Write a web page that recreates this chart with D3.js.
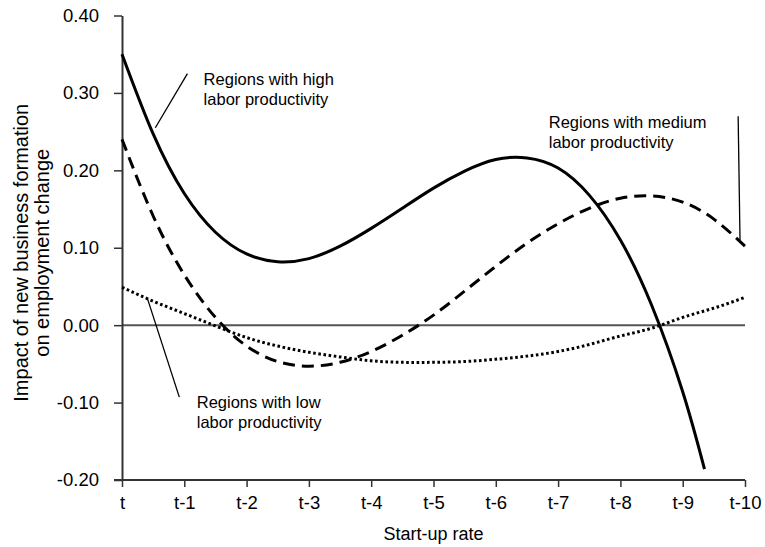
<!DOCTYPE html>
<html>
<head>
<meta charset="utf-8">
<script src="https://cdn.jsdelivr.net/npm/d3@7"></script>
<style>
  body { margin: 0; background: #fff; }
  text { font-family: Arial, "Liberation Sans", sans-serif; fill: #000; }
</style>
</head>
<body>
<svg id="chart" width="765" height="547"></svg>
<script>
// lag positions (0 = t, 10 = t-10), every half step
const lags = [0, 0.5, 1, 1.5, 2, 2.5, 3, 3.5, 4, 4.5, 5, 5.5, 6, 6.5, 7, 7.5, 8, 8.5, 9, 9.5, 10];
const tickLabels = ["t", "t-1", "t-2", "t-3", "t-4", "t-5", "t-6", "t-7", "t-8", "t-9", "t-10"];

// high productivity stops at about t-9.35
const highLags = [0, 0.5, 1, 1.5, 2, 2.5, 3, 3.5, 4, 4.5, 5, 5.5, 6, 6.5, 7, 7.5, 8, 8.5, 9, 9.35];
const highValues = [0.350, 0.247, 0.170, 0.120, 0.092, 0.082, 0.086, 0.102, 0.125, 0.151, 0.177, 0.199, 0.214, 0.216, 0.203, 0.168, 0.110, 0.026, -0.086, -0.186];
const mediumValues = [0.240, 0.141, 0.065, 0.010, -0.027, -0.047, -0.053, -0.048, -0.034, -0.013, 0.013, 0.044, 0.076, 0.106, 0.131, 0.151, 0.164, 0.167, 0.159, 0.137, 0.102];
const lowValues = [0.049, 0.031, 0.015, -0.001, -0.016, -0.027, -0.035, -0.041, -0.046, -0.048, -0.048, -0.047, -0.044, -0.040, -0.034, -0.025, -0.014, -0.004, 0.010, 0.022, 0.036];

const yTicks = [-0.2, -0.1, 0, 0.1, 0.2, 0.3, 0.4];

// annotations in data units: leader [from, to] and text anchor
const notes = [
  { lines: ["Regions with high", "labor productivity"], at: [1.31, 0.310], leader: [[0.535, 0.255], [1.05, 0.325]] },
  { lines: ["Regions with medium", "labor productivity"], at: [6.85, 0.255], leader: [[9.89, 0.270], [9.92, 0.110]] },
  { lines: ["Regions with low", "labor productivity"], at: [1.20, -0.107], leader: [[0.41, 0.034], [0.92, -0.093]] }
];

const width = 765, height = 547;
const margin = { top: 15.5, right: 20, bottom: 67, left: 122 };

const svg = d3.select("#chart");
const x = d3.scaleLinear().domain([0, 10]).range([margin.left, width - margin.right]);
const y = d3.scaleLinear().domain([-0.2, 0.4]).range([height - margin.bottom, margin.top]);

// plain hyphen for negatives, like the original
const fmt = (d) => d3.format(".2f")(d).replace("\u2212", "-");

// zero line
svg.append("line")
  .attr("x1", x(0)).attr("x2", x(10))
  .attr("y1", y(0)).attr("y2", y(0))
  .attr("stroke", "#555").attr("stroke-width", 2);

// y axis
const yAxis = svg.append("g")
  .attr("transform", `translate(${x(0)},0)`)
  .call(d3.axisLeft(y).tickValues(yTicks).tickFormat(fmt).tickSize(8).tickSizeOuter(0).tickPadding(15));

// x axis
const xAxis = svg.append("g")
  .attr("transform", `translate(0,${y(-0.2)})`)
  .call(d3.axisBottom(x).tickValues(d3.range(0, 11)).tickFormat((d) => tickLabels[d]).tickSize(7).tickSizeOuter(0).tickPadding(9));

[yAxis, xAxis].forEach((g) => {
  g.select(".domain").attr("stroke", "#333").attr("stroke-width", 2);
  g.selectAll(".tick line").attr("stroke", "#333").attr("stroke-width", 1.5);
  g.selectAll(".tick text").attr("font-size", 18.5).attr("fill", "#000")
    .attr("font-family", "Arial, 'Liberation Sans', sans-serif");
});
// x axis line also runs under the -0.20 tick
xAxis.select(".domain").attr("d", `M${x(0) - 8},0H${x(10)}`);

// curves
const line = d3.line()
  .x((d) => x(d[0]))
  .y((d) => y(d[1]))
  .curve(d3.curveNatural);

const series = [
  { pts: lags.map((l, i) => [l, lowValues[i]]), dash: "2.6,2.6" },
  { pts: lags.map((l, i) => [l, mediumValues[i]]), dash: "12,7" },
  { pts: highLags.map((l, i) => [l, highValues[i]]), dash: null }
];

svg.selectAll(".series")
  .data(series)
  .join("path")
  .attr("class", "series")
  .attr("d", (d) => line(d.pts))
  .attr("fill", "none")
  .attr("stroke", "#000")
  .attr("stroke-width", 3)
  .attr("stroke-dasharray", (d) => d.dash);

// annotations
notes.forEach((n) => {
  svg.append("line")
    .attr("x1", x(n.leader[0][0])).attr("y1", y(n.leader[0][1]))
    .attr("x2", x(n.leader[1][0])).attr("y2", y(n.leader[1][1]))
    .attr("stroke", "#000").attr("stroke-width", 1.3);
  const t = svg.append("text")
    .attr("x", x(n.at[0])).attr("y", y(n.at[1]))
    .attr("font-size", 16.5);
  n.lines.forEach((s, i) => {
    t.append("tspan").attr("x", x(n.at[0])).attr("dy", i === 0 ? 0 : 20).text(s);
  });
});

// axis titles
svg.append("text")
  .attr("x", (x(0) + x(10)) / 2).attr("y", 540)
  .attr("text-anchor", "middle").attr("font-size", 18)
  .text("Start-up rate");

const yTitle = svg.append("text")
  .attr("transform", `translate(28,${(y(-0.2) + y(0.4)) / 2 + 5}) rotate(-90)`)
  .attr("text-anchor", "middle").attr("font-size", 20);
yTitle.append("tspan").attr("x", 0).attr("dy", 0).text("Impact of new business formation");
yTitle.append("tspan").attr("x", 0).attr("dy", 21).text("on employment change");
</script>
</body>
</html>
